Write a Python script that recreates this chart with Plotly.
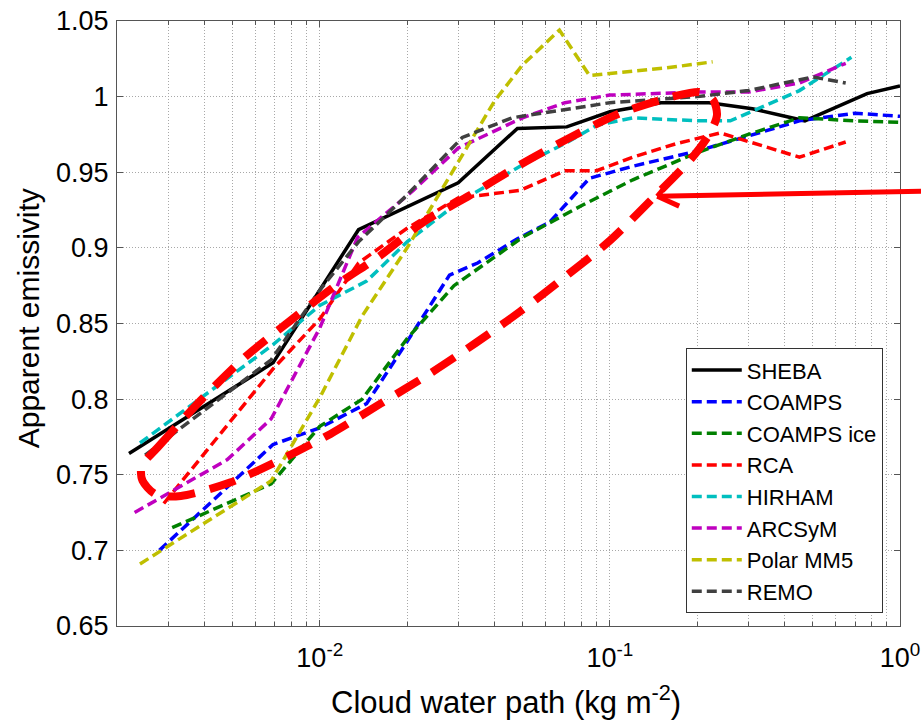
import plotly.graph_objects as go

# ---- data: apparent emissivity vs. cloud water path (kg m^-2) ----
sheba_cwp = [0.0022, 0.0069, 0.0136, 0.030, 0.048, 0.071, 0.10, 0.15, 0.22, 0.31, 0.47, 0.77, 1.0]
sheba_eps = [0.764, 0.824, 0.912, 0.943, 0.979, 0.980, 0.990, 0.996, 0.996, 0.992, 0.984, 1.002, 1.007]

coamps_cwp = [0.0028, 0.0069, 0.010, 0.0145, 0.020, 0.028, 0.035, 0.048, 0.062, 0.085, 0.12, 0.20, 0.30, 0.45, 0.70, 1.0]
coamps_eps = [0.700, 0.770, 0.781, 0.797, 0.838, 0.882, 0.890, 0.906, 0.917, 0.946, 0.954, 0.964, 0.974, 0.984, 0.989, 0.987]

coamps_ice_cwp = [0.0031, 0.0068, 0.010, 0.014, 0.020, 0.029, 0.050, 0.080, 0.12, 0.20, 0.30, 0.45, 0.70, 1.0]
coamps_ice_eps = [0.715, 0.744, 0.782, 0.800, 0.840, 0.875, 0.907, 0.928, 0.945, 0.963, 0.975, 0.986, 0.984, 0.983]

rca_cwp = [0.0029, 0.0069, 0.010, 0.0136, 0.020, 0.030, 0.049, 0.070, 0.090, 0.12, 0.17, 0.24, 0.45, 0.65]
rca_eps = [0.731, 0.820, 0.853, 0.890, 0.913, 0.933, 0.938, 0.951, 0.951, 0.960, 0.969, 0.976, 0.960, 0.970]

hirham_cwp = [0.0024, 0.0069, 0.010, 0.0145, 0.020, 0.030, 0.050, 0.070, 0.090, 0.12, 0.20, 0.26, 0.45, 0.68]
hirham_eps = [0.771, 0.836, 0.862, 0.878, 0.904, 0.930, 0.955, 0.969, 0.981, 0.986, 0.984, 0.984, 1.004, 1.026]

arcsym_cwp = [0.0023, 0.0048, 0.0068, 0.010, 0.0135, 0.021, 0.030, 0.050, 0.070, 0.10, 0.20, 0.30, 0.45, 0.65]
arcsym_eps = [0.725, 0.760, 0.787, 0.847, 0.907, 0.938, 0.966, 0.986, 0.996, 1.001, 1.003, 1.003, 1.009, 1.022]

mm5_cwp = [0.0024, 0.0068, 0.010, 0.014, 0.020, 0.030, 0.040, 0.050, 0.067, 0.085, 0.157, 0.226]
mm5_eps = [0.691, 0.746, 0.801, 0.855, 0.900, 0.957, 0.997, 1.021, 1.044, 1.014, 1.019, 1.023]

remo_cwp = [0.0025, 0.0068, 0.010, 0.0136, 0.020, 0.026, 0.031, 0.046, 0.10, 0.20, 0.30, 0.50, 0.65]
remo_eps = [0.763, 0.826, 0.872, 0.904, 0.935, 0.958, 0.973, 0.986, 0.996, 1.000, 1.004, 1.013, 1.009]

series_names = ["SHEBA", "COAMPS", "COAMPS ice", "RCA", "HIRHAM", "ARCSyM", "Polar MM5", "REMO"]
series_cwp = [sheba_cwp, coamps_cwp, coamps_ice_cwp, rca_cwp, hirham_cwp, arcsym_cwp, mm5_cwp, remo_cwp]
series_eps = [sheba_eps, coamps_eps, coamps_ice_eps, rca_eps, hirham_eps, arcsym_eps, mm5_eps, remo_eps]

# highlighted region (hand-drawn loop), in data units
loop_cwp = [0.00247, 0.00276, 0.00388, 0.00554, 0.00793, 0.01132, 0.01618, 0.02275, 0.03304,
            0.04911, 0.0730, 0.1084, 0.1651, 0.2046, 0.2266, 0.2340, 0.2215, 0.1889, 0.1376,
            0.1003, 0.0702, 0.0491, 0.0344, 0.0240, 0.0162, 0.01089, 0.00733, 0.00493,
            0.00332, 0.00272, 0.00245, 0.00242, 0.00247]
loop_eps = [0.758, 0.768, 0.799, 0.828, 0.852, 0.875, 0.895, 0.917, 0.935, 0.955, 0.973, 0.989,
            1.000, 1.003, 0.998, 0.988, 0.976, 0.958, 0.931, 0.905, 0.881, 0.858, 0.837, 0.817,
            0.797, 0.777, 0.760, 0.745, 0.736, 0.737, 0.746, 0.754, 0.758]

# axis ticks
x_major = [0.01, 0.1, 1.0]
x_major_text = ["10<sup>-2</sup>", "10<sup>-1</sup>", "10<sup>0</sup>"]
x_minor = [m * 10.0 ** e for e in (-3, -2, -1) for m in range(2, 10) if m * 10.0 ** e >= 0.002]
y_ticks = [0.65, 0.70, 0.75, 0.80, 0.85, 0.90, 0.95, 1.00, 1.05]
y_tick_text = ["0.65", "0.7", "0.75", "0.8", "0.85", "0.9", "0.95", "1", "1.05"]

# ---- styling ----
colors = {
    "SHEBA": "#000000",
    "COAMPS": "#0000ff",
    "COAMPS ice": "#008000",
    "RCA": "#ff0000",
    "HIRHAM": "#00bfbf",
    "ARCSyM": "#bf00bf",
    "Polar MM5": "#bfbf00",
    "REMO": "#404040",
}
FONT = "Liberation Sans, Arial, sans-serif"
DASH = "10px,5px"

fig = go.Figure()
for name, xs, ys in zip(series_names, series_cwp, series_eps):
    fig.add_trace(go.Scatter(
        x=xs, y=ys, mode="lines", name=name,
        line=dict(color=colors[name], width=3.5,
                  dash="solid" if name == "SHEBA" else DASH),
    ))

fig.add_trace(go.Scatter(
    x=loop_cwp, y=loop_eps, mode="lines", showlegend=False, hoverinfo="skip",
    line=dict(color="#ff0000", width=8, dash="27px,15px", shape="spline", smoothing=0.8),
))

# pointer arrow (paper coordinates; runs past the right edge of the axes)
arrow_tail = (1.03, 0.7185)
arrow_tip = (0.690, 0.7102)
arrow_arm_up = (0.706, 0.735)
arrow_arm_dn = (0.718, 0.694)
red_line = dict(color="#ff0000", width=5)
fig.add_shape(type="line", xref="paper", yref="paper",
              x0=arrow_tail[0], y0=arrow_tail[1], x1=arrow_tip[0], y1=arrow_tip[1], line=red_line)
fig.add_shape(type="line", xref="paper", yref="paper",
              x0=arrow_arm_up[0], y0=arrow_arm_up[1], x1=arrow_tip[0], y1=arrow_tip[1], line=red_line)
fig.add_shape(type="line", xref="paper", yref="paper",
              x0=arrow_arm_dn[0], y0=arrow_arm_dn[1], x1=arrow_tip[0], y1=arrow_tip[1], line=red_line)

grid_color = "#a8a8a8"
axis_color = "#555555"

fig.update_xaxes(
    type="log", range=[-2.69897, 0.0], automargin=False,
    tickmode="array", tickvals=x_major, ticktext=x_major_text,
    ticks="inside", ticklen=6, tickcolor=axis_color,
    showline=True, linecolor=axis_color, linewidth=1, mirror="ticks",
    showgrid=True, gridcolor=grid_color, griddash="1px,2px", gridwidth=1,
    minor=dict(tickmode="array", tickvals=x_minor, ticks="inside", ticklen=4,
               tickcolor=axis_color, showgrid=True, gridcolor=grid_color,
               griddash="1px,2px", gridwidth=1),
    tickfont=dict(family=FONT, size=27, color="#000000"),
    ticklabeloverflow="allow", ticklabelstandoff=8,
    zeroline=False,
)
fig.update_yaxes(
    range=[0.65, 1.05], automargin=False,
    tickmode="array", tickvals=y_ticks, ticktext=y_tick_text,
    ticks="inside", ticklen=6, tickcolor=axis_color,
    showline=True, linecolor=axis_color, linewidth=1, mirror="ticks",
    showgrid=True, gridcolor=grid_color, griddash="1px,2px", gridwidth=1,
    tickfont=dict(family=FONT, size=27, color="#000000"),
    ticklabeloverflow="allow", ticklabelstandoff=2,
    zeroline=False,
)

fig.add_annotation(text="Apparent emissivity", xref="paper", yref="paper",
                   x=-0.1137, y=0.5086, xanchor="center", yanchor="middle",
                   textangle=-90, showarrow=False,
                   font=dict(family=FONT, size=30, color="#000000"))
fig.add_annotation(text="Cloud water path (kg m<sup>-2</sup>)", xref="paper", yref="paper",
                   x=0.497, y=-0.122, xanchor="center", yanchor="middle",
                   showarrow=False,
                   font=dict(family=FONT, size=31, color="#000000"))

fig.update_layout(
    width=921, height=720,
    margin=dict(l=117, r=21, t=21, b=94, pad=0, autoexpand=False),
    paper_bgcolor="#ffffff", plot_bgcolor="#ffffff",
    showlegend=True,
    legend=dict(
        x=0.978, y=0.021, xanchor="right", yanchor="bottom",
        bgcolor="#ffffff", bordercolor="#333333", borderwidth=1,
        font=dict(family=FONT, size=22, color="#000000"),
        tracegroupgap=0, itemwidth=50,
    ),
    font=dict(family=FONT, color="#000000"),
)

fig.write_html("out.html")
